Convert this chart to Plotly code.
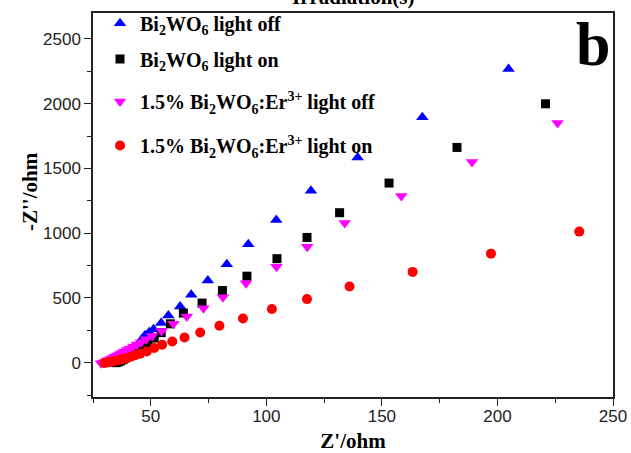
import plotly.graph_objects as go

# Bi2WO6 light off (blue up-triangles)
blue_x = [35.5, 36.5, 37.5, 38.5, 39.5, 40.5, 41.5, 42.5, 43.5, 44.6, 46.0, 47.5, 49.3, 51.2, 54.5, 57.6,
          62.7, 67.5, 74.7, 82.9, 92.2, 104.3, 119.3, 139.5, 167.5, 204.8]
blue_y = [2, 12, 24, 38, 52, 68, 84, 102, 122, 144, 178, 212, 234, 258, 306, 365,
          434, 524, 634, 760, 914, 1102, 1327, 1585, 1895, 2268]

# Bi2WO6 light on (black squares)
black_x = [35.0, 36.0, 37.0, 38.0, 39.0, 40.2, 41.5, 43.0, 44.6, 46.5, 48.8, 51.5, 54.5, 58.5,
           64.1, 72.2, 81.0, 91.6, 104.6, 117.6, 131.7, 153.1, 182.5, 220.8]
black_y = [0, 6, 14, 24, 36, 50, 66, 84, 104, 128, 156, 190, 232, 300,
           383, 460, 557, 668, 803, 967, 1158, 1387, 1662, 1999]

# 1.5% Bi2WO6:Er3+ light off (magenta down-triangles)
mag_x = [28.5, 29.5, 30.5, 31.5, 32.5, 33.5, 34.5, 35.5, 36.5, 37.5, 38.6, 39.8, 41.0, 42.4, 44.0,
         45.8, 48.0, 50.6, 54.7, 59.8, 65.6, 72.8, 81.2, 91.2, 104.4, 117.7, 133.9, 158.4, 189.0, 226.0]
mag_y = [-5, 2, 10, 18, 27, 36, 45, 55, 65, 75, 86, 98, 110, 124, 140,
         158, 180, 206, 245, 300, 357, 421, 506, 614, 740, 896, 1079, 1287, 1549, 1850]

# 1.5% Bi2WO6:Er3+ light on (red circles)
red_x = [30.0, 31.2, 32.5, 33.8, 35.2, 36.6, 38.1, 39.7, 41.4, 43.3, 45.4, 48.3, 51.5, 54.9, 59.3,
         64.6, 71.4, 79.7, 89.9, 102.4, 117.6, 136.0, 163.3, 197.2, 235.4]
red_y = [-2, 2, 6, 11, 16, 22, 29, 37, 46, 57, 69, 87, 113, 139, 164,
         195, 233, 285, 341, 414, 491, 588, 701, 842, 1012]

x_ticks = [50, 100, 150, 200, 250]
y_ticks = [0, 500, 1000, 1500, 2000, 2500]

names = [
    "<b>Bi<sub>2</sub>WO<sub>6</sub> light off</b>",
    "<b>Bi<sub>2</sub>WO<sub>6</sub> light on</b>",
    "<b>1.5% Bi<sub>2</sub>WO<sub>6</sub>:Er<sup>3+</sup> light off</b>",
    "<b>1.5% Bi<sub>2</sub>WO<sub>6</sub>:Er<sup>3+</sup> light on</b>",
]
legend_ids = ["legend", "legend2", "legend3", "legend4"]
legend_centers = [0.9732, 0.8802, 0.7695, 0.6549]

fig = go.Figure()
fig.add_trace(go.Scatter(x=blue_x, y=blue_y, mode="markers", name=names[0], legend=legend_ids[0],
                         marker=dict(symbol="triangle-up", size=11, color="#0000ff")))
fig.add_trace(go.Scatter(x=black_x, y=black_y, mode="markers", name=names[1], legend=legend_ids[1],
                         marker=dict(symbol="square", size=9, color="#000000")))
fig.add_trace(go.Scatter(x=mag_x, y=mag_y, mode="markers", name=names[2], legend=legend_ids[2],
                         marker=dict(symbol="triangle-down", size=11, color="#ff00ff")))
fig.add_trace(go.Scatter(x=red_x, y=red_y, mode="markers", name=names[3], legend=legend_ids[3],
                         marker=dict(symbol="circle", size=10, color="#ff0000")))

serif = "Liberation Serif, Times New Roman, serif"
sans = "Liberation Sans, Arial, sans-serif"

legend_layout = {}
for lid, yc in zip(legend_ids, legend_centers):
    legend_layout[lid] = dict(x=0.0135, y=yc, xanchor="left", yanchor="middle",
                              bgcolor="rgba(0,0,0,0)", borderwidth=0,
                              font=dict(family=serif, size=20, color="black"))

fig.update_layout(
    width=631, height=453,
    margin=dict(l=93, r=18, t=13, b=56, autoexpand=False),
    paper_bgcolor="white", plot_bgcolor="white",
    showlegend=True,
    xaxis=dict(range=[25, 250], tickvals=x_ticks, ticks="outside", ticklen=7, tickwidth=1.3,
               tickcolor="#222", showline=True, linecolor="#222", linewidth=1.5, mirror=True,
               showgrid=False, zeroline=False, automargin=False, ticklabelstandoff=-4,
               tickfont=dict(family=sans, size=17, color="#222"),
               minor=dict(dtick=25, tick0=25, ticks="outside", ticklen=4, tickcolor="#222"),
               title=dict(text="<b>Z'/ohm</b>", font=dict(family=serif, size=21, color="black"),
                          standoff=8)),
    yaxis=dict(range=[-265, 2700], tickvals=y_ticks, ticks="outside", ticklen=7, tickwidth=1.3,
               tickcolor="#222", showline=True, linecolor="#222", linewidth=1.5, mirror=True,
               showgrid=False, zeroline=False, automargin=False,
               tickfont=dict(family=sans, size=17, color="#222"),
               minor=dict(dtick=250, tick0=0, ticks="outside", ticklen=4, tickcolor="#222")),
    annotations=[
        dict(text="<b>-Z''/ohm</b>", xref="paper", yref="paper", x=-0.121, y=0.534,
             xanchor="center", yanchor="middle", textangle=-90, showarrow=False,
             font=dict(family=serif, size=21, color="black")),
        dict(text="<b>b</b>", xref="paper", yref="paper", x=0.998, y=1.013,
             xanchor="right", yanchor="top", showarrow=False,
             font=dict(family=serif, size=62, color="black")),
        dict(text="<b>Irradiation(s)</b>", xref="paper", yref="paper", x=0.5, y=1.0417,
             xanchor="center", yanchor="middle", showarrow=False,
             font=dict(family=serif, size=21, color="black")),
    ],
    **legend_layout,
)

fig.write_html("out.html")
